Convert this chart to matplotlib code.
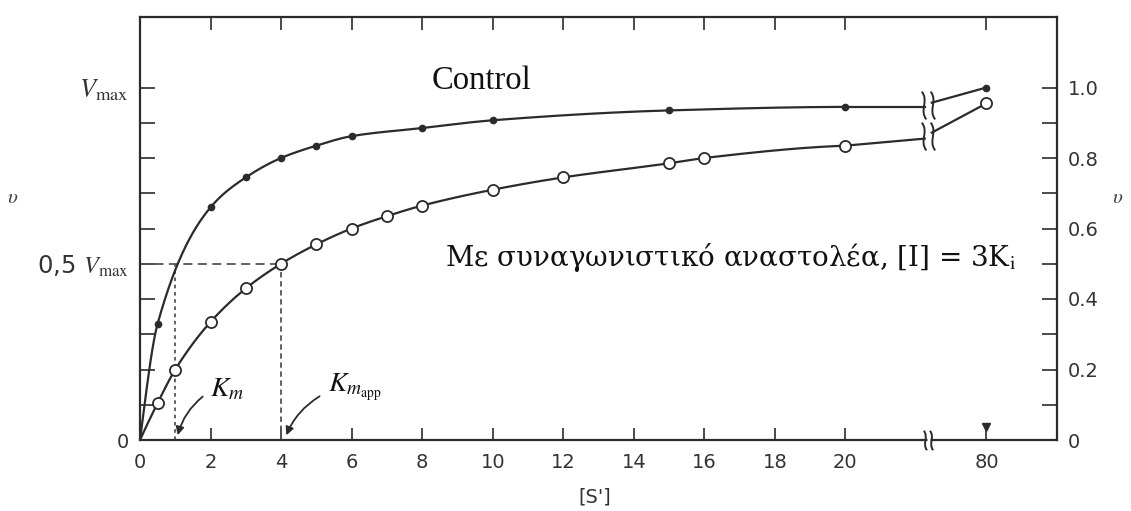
import numpy as np
import matplotlib
matplotlib.use("Agg")
import matplotlib.pyplot as plt
from matplotlib.path import Path
from matplotlib.patches import FancyArrowPatch

# ---------------- data ----------------
control_s = [0, 0.5, 2, 3, 4, 5, 6, 8, 10, 15, 20]
control_v = [0, 0.33, 0.66, 0.745, 0.80, 0.835, 0.862, 0.885, 0.907, 0.935, 0.945]
inhib_s = [0, 0.5, 1, 2, 3, 4, 5, 6, 7, 8, 10, 12, 15, 16, 20]
inhib_v = [0, 0.105, 0.20, 0.335, 0.43, 0.50, 0.555, 0.60, 0.635, 0.665, 0.71, 0.745, 0.785, 0.80, 0.835]
high_s = 80
control_v_high = 1.0
inhib_v_high = 0.955
# curve values on the two sides of the axis break
control_break_v = [0.945, 0.957]
inhib_break_v = [0.855, 0.872]
km = 1
km_app = 4
half_vmax = 0.5

x_ticks = [0, 2, 4, 6, 8, 10, 12, 14, 16, 18, 20, 80]
x_labels = ["0", "2", "4", "6", "8", "10", "12", "14", "16", "18", "20", "80"]
left_ticks = [0, 0.5, 1.0]
left_labels = ["0", "0,5 $V_{\\mathrm{max}}$", "$V_{\\mathrm{max}}$"]
right_ticks = [0, 0.2, 0.4, 0.6, 0.8, 1.0]
right_labels = ["0", "0.2", "0.4", "0.6", "0.8", "1.0"]
minor_ticks = [0.1, 0.2, 0.3, 0.4, 0.6, 0.7, 0.8, 0.9]

# ---------------- style ----------------
plt.rcParams["mathtext.fontset"] = "stix"
plt.rcParams["font.family"] = ["DejaVu Sans"]
INK = "#2b2b2b"
GRID = "#555555"

BREAK_S = 55.25        # data position of the axis break
BREAK_HALF = 1.5       # half gap of the break (data units in the compressed part)


def fwd(x):
    x = np.asarray(x, float)
    return np.where(x <= 20, x, 20 + (x - 20) / 15.0)


def inv(p):
    p = np.asarray(p, float)
    return np.where(p <= 20, p, 20 + (p - 20) * 15.0)


def pchip(x, y, xs):
    x = np.asarray(x, float); y = np.asarray(y, float)
    h = np.diff(x); d = np.diff(y) / h
    n = len(x)
    m = np.zeros(n)
    for k in range(1, n - 1):
        if d[k - 1] * d[k] > 0:
            w1 = 2 * h[k] + h[k - 1]; w2 = h[k] + 2 * h[k - 1]
            m[k] = (w1 + w2) / (w1 / d[k - 1] + w2 / d[k])

    def end(h0, h1, d0, d1):
        mm = ((2 * h0 + h1) * d0 - h0 * d1) / (h0 + h1)
        if np.sign(mm) != np.sign(d0):
            mm = 0.0
        elif np.sign(d0) != np.sign(d1) and abs(mm) > abs(3 * d0):
            mm = 3 * d0
        return mm
    m[0] = end(h[0], h[1], d[0], d[1])
    m[-1] = end(h[-1], h[-2], d[-1], d[-2])
    idx = np.clip(np.searchsorted(x, xs) - 1, 0, n - 2)
    hh = h[idx]
    t = (xs - x[idx]) / hh
    h00 = 2 * t**3 - 3 * t**2 + 1
    h10 = t**3 - 2 * t**2 + t
    h01 = -2 * t**3 + 3 * t**2
    h11 = t**3 - t**2
    return h00 * y[idx] + h10 * hh * m[idx] + h01 * y[idx + 1] + h11 * hh * m[idx + 1]


fig = plt.figure(figsize=(11.31, 5.11), dpi=100)
ax = fig.add_axes([140 / 1131, 1 - 440 / 511, (1057 - 140) / 1131, (440 - 17) / 511])
ax.set_xscale("function", functions=(fwd, inv))
ax.set_xlim(0, 110)
ax.set_ylim(0, 1.2)


# break symbol: two S-shaped strokes
def s_stroke(cx, hgt, w):
    return [(cx + w, -hgt), (cx - 2.2 * w, -hgt / 3), (cx + 2.2 * w, hgt / 3), (cx - w, hgt)]

verts = []
codes = []
for cx in (-3.5, 3.5):
    verts += s_stroke(cx, 11, 1.8)
    codes += [Path.MOVETO, Path.CURVE4, Path.CURVE4, Path.CURVE4]
break_marker = Path(verts, codes)


# ---------------- curves ----------------
def draw_curve(s, v, brk, vhigh, filled):
    xs = np.linspace(s[0], s[-1], 400)
    ax.plot(xs, pchip(s, v, xs), color=INK, lw=1.6, zorder=3, solid_capstyle="butt")
    ax.plot([s[-1], BREAK_S - BREAK_HALF], [v[-1], brk[0]], color=INK, lw=1.6, zorder=3)
    ax.plot([BREAK_S + BREAK_HALF, high_s], [brk[1], vhigh], color=INK, lw=1.6, zorder=3)
    ms_x = list(s[1:]) + [high_s]
    ms_y = list(v[1:]) + [vhigh]
    if filled:
        ax.plot(ms_x, ms_y, ls="none", marker="o", ms=4.5, color=INK, zorder=4)
    else:
        ax.plot(ms_x, ms_y, ls="none", marker="o", ms=8, mfc="white", mec=INK, mew=1.3, zorder=4)
    ax.plot([BREAK_S], [(brk[0] + brk[1]) / 2], ls="none", marker=break_marker,
            ms=20, mfc="none", mec=INK, mew=1.4, zorder=4)


draw_curve(control_s, control_v, control_break_v, control_v_high, True)
draw_curve(inhib_s, inhib_v, inhib_break_v, inhib_v_high, False)

# ---------------- reference lines ----------------
ax.plot([0, km_app], [half_vmax, half_vmax], color=GRID, lw=1.3, ls=(0, (5, 3)), zorder=2)
ax.plot([km, km], [0, half_vmax], color=GRID, lw=1.3, ls=(0, (2, 2)), zorder=2)
ax.plot([km_app, km_app], [0, half_vmax], color=GRID, lw=1.3, ls=(0, (3, 2)), zorder=2)

# ---------------- axes styling ----------------
for sp in ax.spines.values():
    sp.set_color(INK)
    sp.set_linewidth(1.6)

ax.set_xticks(x_ticks)
ax.set_xticklabels(x_labels)
ax.xaxis.set_minor_locator(matplotlib.ticker.NullLocator())
ax.set_yticks(left_ticks)
ax.set_yticklabels(left_labels)
ax.set_yticks(minor_ticks, minor=True)
ax.tick_params(axis="x", which="both", direction="in", top=True, length=9, width=1.2,
               color=INK, labelsize=14, labelcolor="#333333", pad=9)
ax.tick_params(axis="y", which="both", direction="in", length=11, width=1.2,
               color=INK, labelsize=19, labelcolor="#333333", pad=8)
for lab in ax.get_yticklabels():
    if lab.get_text() == "0":
        lab.set_fontsize(14)
    if lab.get_text().startswith("0,5"):
        lab.set_fontsize(17.5)

ax2 = ax.twinx()
ax2.set_ylim(0, 1.2)
ax2.set_yticks(right_ticks)
ax2.set_yticklabels(right_labels)
ax2.set_yticks([0.1, 0.3, 0.5, 0.7, 0.9], minor=True)
ax2.tick_params(axis="y", which="both", direction="in", length=11, width=1.2,
                color=INK, labelsize=14, labelcolor="#333333", pad=8)
for sp in ax2.spines.values():
    sp.set_visible(False)

# x-axis break on the bottom spine
xt = ax.get_xaxis_transform()
ax.plot([BREAK_S - 0.6, BREAK_S + 0.6], [0, 0], color="white", lw=3.5, transform=xt,
        clip_on=False, zorder=5, solid_capstyle="butt")
ax.plot([BREAK_S], [0], ls="none", marker=break_marker, ms=14, mfc="none", mec=INK,
        mew=1.4, transform=xt, clip_on=False, zorder=6)
# cap on the 80 tick
ax.plot([high_s], [0.03], ls="none", marker="v", ms=6, color=INK, transform=xt, zorder=5)

# ---------------- text ----------------
ax.text(8.28, 1.02, "Control", fontsize=23.5, family="Liberation Serif", color="#111111",
        va="center", ha="left")
ax.text(8.65, 0.518, "Με συναγωνιστικό αναστολέα, [I] = 3K$_\\mathrm{i}$", fontsize=20,
        family="DejaVu Serif", color="#111111", va="center", ha="left")
ax.text(1.99, 0.147, "$K_m$", fontsize=20, color="#111111", va="center", ha="left")
ax.text(5.33, 0.15, "$K_{m_{\\mathrm{app}}}$", fontsize=20, color="#111111", va="center", ha="left")

for start, end in [((1.84, 0.128), (1.05, 0.006)), ((5.16, 0.128), (4.12, 0.006))]:
    ax.add_patch(FancyArrowPatch(start, end, connectionstyle="arc3,rad=0.18",
                                 arrowstyle="-|>", mutation_scale=12, lw=1.3,
                                 color=INK, zorder=5))

fig.text(13 / 1131, 1 - 197 / 511, "$\\upsilon$", fontsize=15, color="#444444",
         ha="center", va="center")
fig.text(1118 / 1131, 1 - 197 / 511, "$\\upsilon$", fontsize=15, color="#444444",
         ha="center", va="center")
fig.text(595 / 1131, 1 - 497 / 511, "[S']", fontsize=14, color="#333333",
         ha="center", va="center")

fig.savefig("out.png", dpi=100, facecolor="white")
